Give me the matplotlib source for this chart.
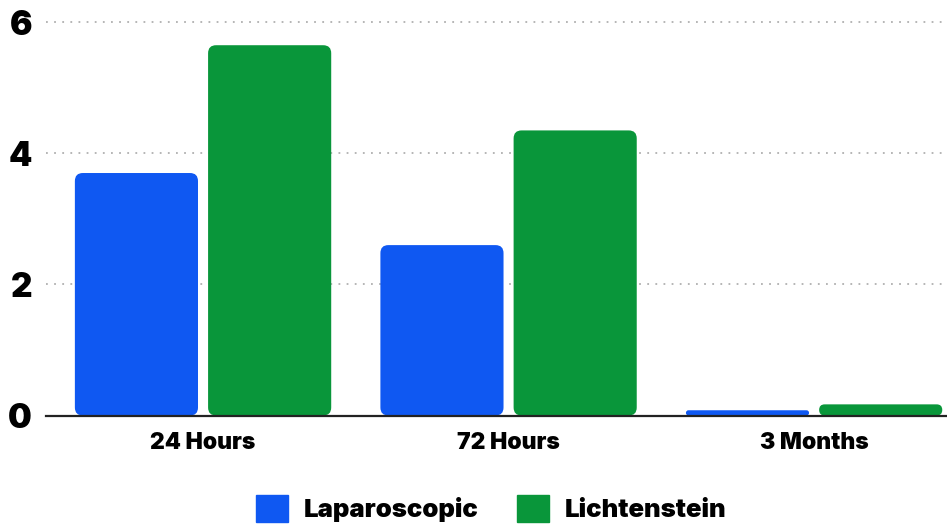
import matplotlib.pyplot as plt
from matplotlib import font_manager
from matplotlib.patches import FancyBboxPatch
import numpy as np

periods = ["24 Hours", "72 Hours", "3 Months"]
laparoscopic = [3.7, 2.6, 0.08]
lichtenstein = [5.65, 4.35, 0.17]
y_ticks = [0, 2, 4, 6]

blue = "#0f58f2"
green = "#09963a"


def heavy_font():
    # heaviest face of the first family that has one
    for fam in ["Inter", "Lato", "Roboto"]:
        best = None
        for f in font_manager.fontManager.ttflist:
            if f.name == fam and f.style == "normal":
                wt = f.weight if isinstance(f.weight, int) else 400
                if wt >= 800 and (best is None or wt > best[0]):
                    best = (wt, f.fname)
        if best:
            return font_manager.FontProperties(fname=best[1])
    return font_manager.FontProperties(family="DejaVu Sans", weight="bold")


fp = heavy_font()

fig = plt.figure(figsize=(9.47, 5.29), dpi=100)
ax = fig.add_axes([46 / 947, (529 - 415.5) / 529, 1 - 46 / 947, 415.5 / 529])

x = np.arange(len(periods))
w = 0.403
gap = 0.033
b1 = ax.bar(x - (w + gap) / 2, laparoscopic, w, color=blue, label="Laparoscopic")
b2 = ax.bar(x + (w + gap) / 2, lichtenstein, w, color=green, label="Lichtenstein")

ax.set_xlim(-0.514, 2.435)
ax.set_ylim(0, 6.34)

# swap the plain rectangles for rounded ones
r = 0.026
aspect = 4.7
for bars in (b1, b2):
    for rect in bars:
        bx, by = rect.get_x(), rect.get_y()
        bw, bh = rect.get_width(), rect.get_height()
        rs = min(r, bw / 2, bh / aspect / 2)
        patch = FancyBboxPatch((bx, by), bw, bh,
                               boxstyle=f"round,pad=0,rounding_size={rs}",
                               mutation_aspect=aspect,
                               facecolor=rect.get_facecolor(), edgecolor="none",
                               zorder=2)
        ax.add_patch(patch)
        rect.set_visible(False)

ax.set_yticks(y_ticks)
ax.set_yticklabels([str(t) for t in y_ticks])
ax.set_xticks(x)
ax.set_xticklabels(periods)
for lab in ax.get_yticklabels():
    lab.set_fontproperties(fp)
    lab.set_fontsize(24)
for lab in ax.get_xticklabels():
    lab.set_fontproperties(fp)
    lab.set_fontsize(16.5)
ax.tick_params(axis="both", length=0)
ax.tick_params(axis="y", pad=10)
ax.tick_params(axis="x", pad=12)

ax.grid(axis="y", color="#b0b0b0", linestyle=(0, (1, 3.5)), linewidth=1.3)
ax.set_axisbelow(True)
for s in ("left", "right", "top"):
    ax.spines[s].set_visible(False)
ax.spines["bottom"].set_color("#222222")
ax.spines["bottom"].set_linewidth(1.6)
ax.spines["bottom"].set_zorder(3)

handles = [plt.Rectangle((0, 0), 1, 1, color=blue),
           plt.Rectangle((0, 0), 1, 1, color=green)]
leg_fp = fp.copy()
leg_fp.set_size(18.5)
leg = fig.legend(handles, ["Laparoscopic", "Lichtenstein"], loc="lower center",
                 bbox_to_anchor=(491 / 947, -0.03), ncol=2, frameon=False,
                 prop=leg_fp,
                 handlelength=1.25, handleheight=1.25, handletextpad=0.6,
                 columnspacing=1.5)

fig.savefig("out.png", dpi=100)
